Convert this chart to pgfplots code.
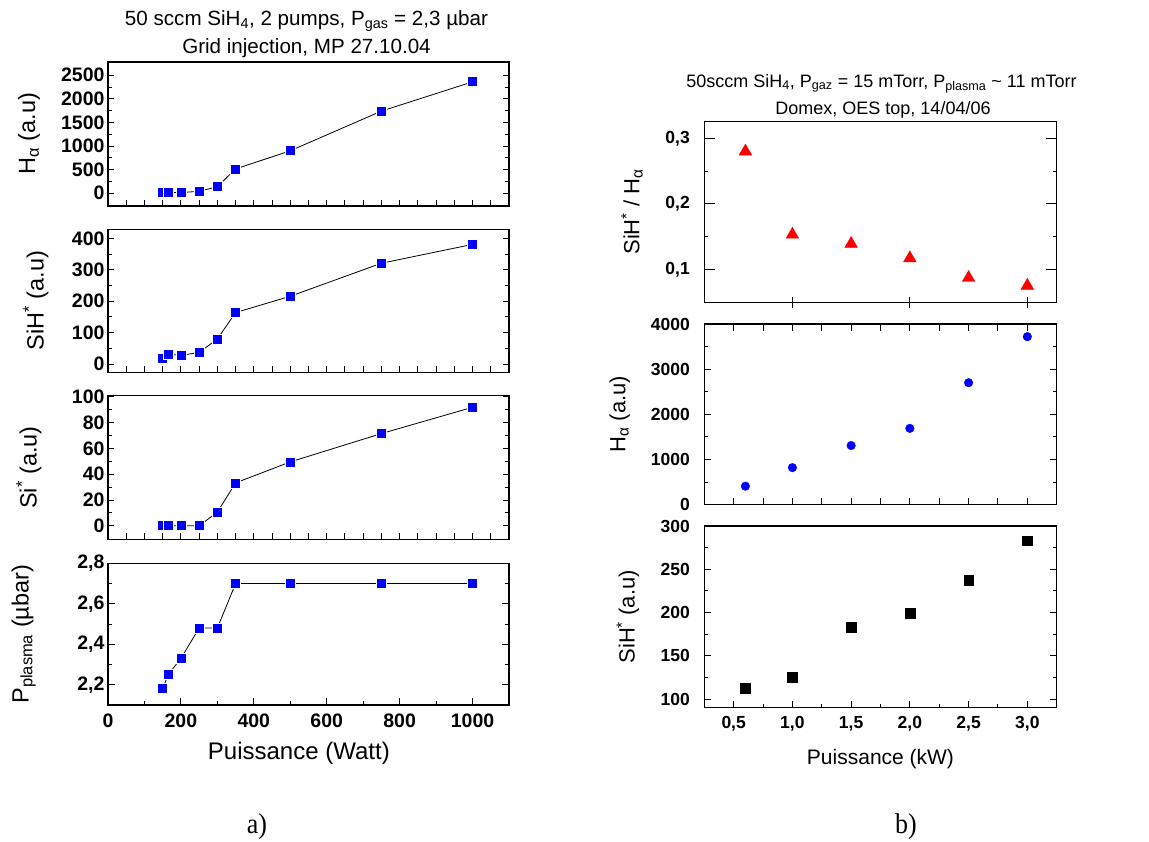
\documentclass[border=0pt]{standalone}
\usepackage{fontspec}
\setmainfont{Liberation Sans}
\newfontfamily\capfont{Liberation Serif}
\usepackage{pgfplots}
\pgfplotsset{compat=1.18}

\pgfplotsset{
  base/.style={
    scale only axis,
    anchor=north west,
    axis line style={line width=1.2pt},
    every tick/.style={black, line width=1pt},
    tick align=inside,
    major tick length=7pt,
    minor tick length=4pt,
    ytick pos=both,
    xtick pos=bottom,
    /pgf/number format/assume math mode=true,
    /pgf/number format/use comma,
    /pgf/number format/1000 sep={},
  },
  leftax/.style={
    base, width=401pt,
    xmin=0, xmax=1100,
    minor y tick num=1,
    yticklabel style={font=\fontsize{19.5}{19.5}\selectfont\bfseries},
    xticklabel style={font=\fontsize{19.5}{19.5}\selectfont\bfseries, yshift=-5pt},
    ylabel style={font=\fontsize{23.5}{26}\selectfont, anchor=center},
    xlabel style={font=\fontsize{24}{26}\selectfont},
  },
  upleft/.style={leftax, xtick={50,100,...,1050}, xticklabels={}, major tick length=6pt},
  rightax/.style={
    base, width=352.4pt,
    xmin=0.25, xmax=3.25,
    yticklabel style={font=\fontsize{17.5}{17.5}\selectfont\bfseries, xshift=-11pt},
    xticklabel style={font=\fontsize{17.5}{17.5}\selectfont\bfseries, yshift=-5pt},
    ylabel style={font=\fontsize{22}{24}\selectfont, anchor=center},
    xlabel style={font=\fontsize{21}{23}\selectfont},
  },
  lefts/.style={black, line width=0.8pt, mark=square*, mark size=5pt,
    mark options={fill=blue, draw=white, line width=0.7pt, solid}},
}

\begin{document}
\begin{tikzpicture}
\useasboundingbox (0pt,0pt) rectangle (1149pt,-841pt);

% ---------- left panel ----------
\begin{axis}[upleft, at={(108pt,-62pt)}, height=144pt,
  ymin=-270, ymax=2780, ytick={0,500,...,2500},
  ylabel={H\textsubscript{α} (a.u)},
  ylabel style={at={(axis description cs:-0.197,0.5)}}]
\addplot[lefts] coordinates {(150,15) (165,15) (200,15) (250,40) (300,140) (350,515) (500,900) (750,1740) (1000,2360)};
\end{axis}

\begin{axis}[upleft, at={(108pt,-229.3pt)}, height=143pt,
  ymin=-26, ymax=429, ytick={0,100,...,400},
  ylabel={SiH\textsuperscript{*} (a.u)},
  ylabel style={at={(axis description cs:-0.18,0.5)}}]
\addplot[lefts] coordinates {(150,19) (165,32) (200,28) (250,37) (300,80) (350,164) (500,216) (750,321) (1000,381)};
\end{axis}

\begin{axis}[upleft, at={(108pt,-395.7pt)}, height=143.6pt,
  ymin=-10.5, ymax=101, ytick={0,20,...,100},
  ylabel={Si\textsuperscript{*} (a.u)},
  ylabel style={at={(axis description cs:-0.197,0.5)}}]
\addplot[lefts] coordinates {(150,0) (165,0) (200,0) (250,0) (300,10.6) (350,33.3) (500,49.6) (750,71.6) (1000,92)};
\end{axis}

\begin{axis}[leftax, at={(108pt,-563.3pt)}, height=141.7pt,
  ymin=2.1, ymax=2.8, ytick={2.2,2.4,2.6,2.8},
  xtick={0,200,...,1000}, minor x tick num=1,
  yticklabel style={/pgf/number format/.cd, fixed, fixed zerofill, precision=1, use comma},
  ylabel={P\textsubscript{plasma} (µbar)},
  ylabel style={at={(axis description cs:-0.21,0.5)}},
  xlabel={Puissance (Watt)},
  xlabel style={at={(axis description cs:0.476,-0.388)}, anchor=base}]
\addplot[lefts] coordinates {(150,2.18) (165,2.25) (200,2.33) (250,2.48) (300,2.48) (350,2.70) (500,2.70) (750,2.70) (1000,2.70)};
\end{axis}

% ---------- right panel ----------
\begin{axis}[rightax, at={(704.3pt,-121.3pt)}, height=181pt,
  ymin=0.0496, ymax=0.326, ytick={0.1,0.2,0.3}, minor y tick num=1,
  yticklabel style={/pgf/number format/.cd, fixed, fixed zerofill, precision=1, use comma},
  xtick={1,2,3}, xticklabels={}, xtick align=center, major tick length=11pt,
  ylabel={SiH\textsuperscript{*} / H\textsubscript{α}},
  ylabel style={at={(axis description cs:-0.205,0.5)}}]
\addplot[only marks, mark=triangle*, mark size=7.3pt, mark options={fill=red, draw=red}]
  coordinates {(0.6,0.280) (1.0,0.153) (1.5,0.139) (2.0,0.117) (2.5,0.087) (3.0,0.075)};
\end{axis}

\begin{axis}[rightax, at={(704.3pt,-324pt)}, height=180.7pt,
  ymin=0, ymax=4000, ytick={0,1000,...,4000}, minor y tick num=1,
  xtick={0.5,0.75,...,3.0}, xticklabels={}, xtick pos=both,
  ylabel={H\textsubscript{α} (a.u)},
  ylabel style={at={(axis description cs:-0.24,0.5)}}]
\addplot[only marks, mark=*, mark size=4.3pt, mark options={fill=blue, draw=blue}]
  coordinates {(0.6,410) (1.0,820) (1.5,1310) (2.0,1690) (2.5,2700) (3.0,3720)};
\end{axis}

\begin{axis}[rightax, at={(704.3pt,-526pt)}, height=181.7pt,
  ymin=90, ymax=300, ytick={100,150,...,300}, minor y tick num=1,
  xtick={0.5,1.0,...,3.0}, minor x tick num=1,
  xticklabel style={/pgf/number format/.cd, fixed, fixed zerofill, precision=1, use comma},
  ylabel={SiH\textsuperscript{*} (a.u)},
  ylabel style={at={(axis description cs:-0.217,0.5)}},
  xlabel={Puissance (kW)},
  xlabel style={at={(axis description cs:0.5,-0.315)}, anchor=base}]
\addplot[only marks, mark=square*, mark size=4.9pt, mark options={fill=black, draw=black}]
  coordinates {(0.6,113) (1.0,125) (1.5,183) (2.0,199) (2.5,237) (3.0,283)};
\end{axis}

% ---------- titles and captions ----------
\node[anchor=base, font=\fontsize{20.6}{24}\selectfont] at (306.5pt,-25pt)
  {50 sccm SiH\textsubscript{4}, 2 pumps, P\textsubscript{gas} = 2,3 µbar};
\node[anchor=base, font=\fontsize{20.6}{24}\selectfont] at (306.5pt,-53.3pt)
  {Grid injection, MP 27.10.04};
\node[anchor=base, font=\fontsize{18}{22}\selectfont] at (881.5pt,-87pt)
  {50sccm SiH\textsubscript{4}, P\textsubscript{gaz} = 15 mTorr, P\textsubscript{plasma} \textasciitilde{} 11 mTorr};
\node[anchor=base, font=\fontsize{18}{22}\selectfont] at (883pt,-114pt)
  {Domex, OES top, 14/04/06};
\node[anchor=base, font=\capfont\fontsize{26}{28}\selectfont, yscale=1.1] at (257pt,-833pt) {a)};
\node[anchor=base, font=\capfont\fontsize{26}{28}\selectfont, yscale=1.1] at (906pt,-833pt) {b)};
\end{tikzpicture}
\end{document}
